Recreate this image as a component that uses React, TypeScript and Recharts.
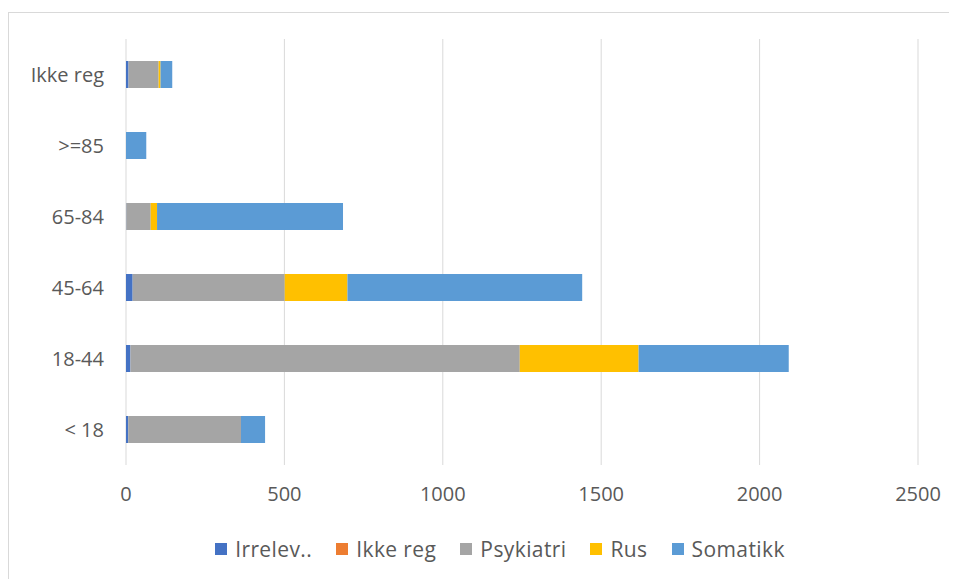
import { Bar, BarChart, CartesianGrid, Legend, XAxis, YAxis } from "recharts";

const AGE_GROUPS = ["Ikke reg", ">=85", "65-84", "45-64", "18-44", "< 18"];
const IRRELEVANT = [8, 0, 1, 21, 14, 7];
const NOT_REGISTERED = [0, 0, 0, 0, 0, 0];
const PSYCHIATRY = [95, 0, 77, 480, 1229, 356];
const SUBSTANCE = [6, 0, 20, 198, 375, 0];
const SOMATIC = [37, 64, 587, 741, 474, 76];
const X_TICKS = [0, 500, 1000, 1500, 2000, 2500];

const SERIES = [
  { key: "irrelevant", name: "Irrelev..", color: "#4472c4" },
  { key: "notRegistered", name: "Ikke reg", color: "#ed7d31" },
  { key: "psychiatry", name: "Psykiatri", color: "#a5a5a5" },
  { key: "substance", name: "Rus", color: "#ffc000" },
  { key: "somatic", name: "Somatikk", color: "#5b9bd5" },
];

const TEXT = "#595959";
const FONT = "'Open Sans', sans-serif";
const FONT_SIZE = 20;

const rows = AGE_GROUPS.map((label, i) => ({
  label,
  irrelevant: IRRELEVANT[i],
  notRegistered: NOT_REGISTERED[i],
  psychiatry: PSYCHIATRY[i],
  substance: SUBSTANCE[i],
  somatic: SOMATIC[i],
}));

function SeriesLegend() {
  return (
    <div style={{ display: "flex", justifyContent: "center", alignItems: "center", height: 30, paddingLeft: 98 }}>
      {SERIES.map((s) => (
        <div key={s.key} style={{ display: "flex", alignItems: "center", marginRight: 24 }}>
          <span style={{ width: 12, height: 12, background: s.color, marginRight: 8 }} />
          <span style={{ color: TEXT, fontSize: 21, letterSpacing: 0.4, fontFamily: FONT }}>{s.name}</span>
        </div>
      ))}
    </div>
  );
}

export default function App() {
  return (
    <div style={{ position: "relative", width: 949, height: 571, overflow: "hidden", fontFamily: FONT }}>
      {/* chart frame, runs off the right and bottom edges */}
      <div
        style={{
          position: "absolute",
          left: 0,
          top: 4,
          width: 1100,
          height: 700,
          border: "1px solid #d9d9d9",
          boxSizing: "border-box",
        }}
      />
      <BarChart
        width={949}
        height={571}
        data={rows}
        layout="vertical"
        margin={{ top: 31, right: 39, bottom: 54, left: 0 }}
        style={{ position: "absolute", left: 0, top: 0 }}
      >
        <CartesianGrid stroke="#d9d9d9" horizontal={false} />
        <XAxis
          type="number"
          domain={[0, 2500]}
          ticks={X_TICKS}
          axisLine={false}
          tickLine={false}
          tickSize={0}
          tickMargin={22}
          tick={{ fill: TEXT, fontSize: FONT_SIZE, fontFamily: FONT }}
        />
        <YAxis
          type="category"
          dataKey="label"
          width={118}
          axisLine={false}
          tickLine={false}
          tickSize={0}
          tickMargin={22}
          tick={{ fill: TEXT, fontSize: FONT_SIZE, fontFamily: FONT }}
        />
        <Legend content={<SeriesLegend />} wrapperStyle={{ top: 526, height: 30 }} />
        {SERIES.map((s) => (
          <Bar
            key={s.key}
            name={s.name}
            dataKey={s.key}
            stackId="a"
            fill={s.color}
            barSize={27}
            isAnimationActive={false}
          />
        ))}
      </BarChart>
    </div>
  );
}
